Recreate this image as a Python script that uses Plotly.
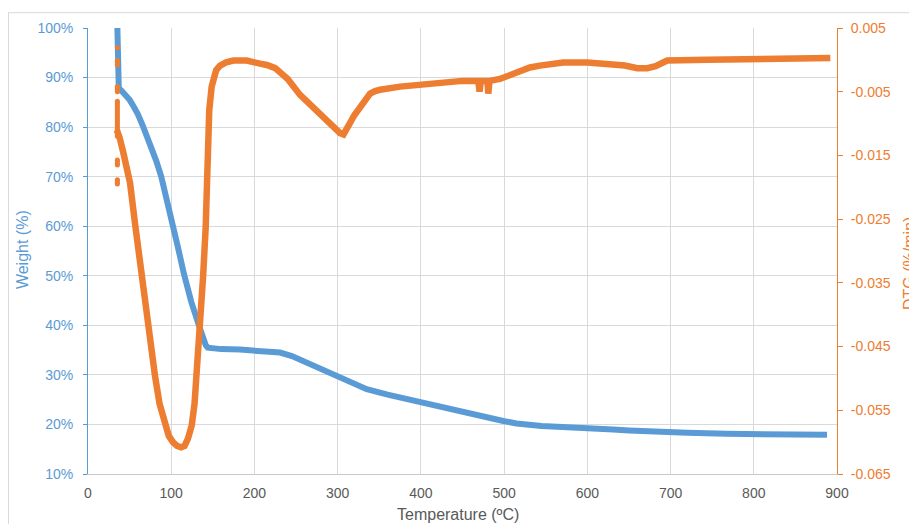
import plotly.graph_objects as go

# ---------------- data ----------------
weight_temp = [35.3, 35.5, 35.8, 37, 40, 45, 50, 55, 60, 66.5, 75, 82, 88, 95, 101, 108,
               115.4, 124, 134, 137, 139.5, 141.5, 144, 150, 160, 182.7, 210, 230.8, 245,
               262.8, 280, 298.8, 315, 334.9, 360, 399, 430, 463, 485, 499, 515, 527, 545,
               570, 591, 615, 631, 650, 671, 691, 720, 767, 800, 850, 888]
weight_pct = [100, 94, 88.2, 87.8, 87.4, 86.6, 85.5, 84.1, 82.6, 80.0, 76.5, 73.2, 70.0,
              65.4, 61.0, 55.8, 50.3, 44.8, 39.6, 38.0, 36.8, 36.0, 35.5, 35.3, 35.2, 35.1,
              34.9, 34.5, 33.8, 32.5, 31.2, 29.8, 28.4, 27.1, 26.0, 24.5, 23.3, 21.8, 21.1,
              20.7, 20.2, 19.9, 19.7, 19.5, 19.4, 19.2, 19.0, 18.8, 18.6, 18.4, 18.3, 18.1,
              18.1, 18.0, 17.9]

dtg_temp = [34.6, 38, 42.5, 50.5, 57, 64.5, 72, 80.5, 86, 92.5, 97, 102, 107, 111.8, 116,
            120, 124.6, 128, 130.6, 134.6, 138.3, 141.4, 142.8, 143.7, 145.7, 148.6, 150.6,
            154, 158.7, 166, 174.7, 190.7, 206.7, 215, 225, 232, 240, 254.8, 265, 278.8,
            290, 302.9, 307, 311, 314.9, 320, 327, 333, 339, 345, 351, 375, 400, 423, 450,
            469, 470.5, 472, 480, 481, 482.5, 495, 507, 519, 531, 543, 555, 571, 600, 628,
            645, 660, 672, 682, 690, 696, 744, 824, 892]
dtg_val = [-0.0110, -0.0122, -0.0146, -0.0193, -0.0262, -0.0340, -0.0418, -0.0496, -0.0540,
           -0.0574, -0.0590, -0.0600, -0.0606, -0.0608, -0.0606, -0.0595, -0.0574, -0.0540,
           -0.0496, -0.0418, -0.0340, -0.0263, -0.0193, -0.0130, -0.0079, -0.0042, -0.0027,
           -0.0016, -0.0009, -0.0004, -0.0001, -0.0001, -0.0006, -0.0008, -0.0013, -0.0020,
           -0.0030, -0.0055, -0.0068, -0.0086, -0.0100, -0.0115, -0.0117, -0.0110, -0.0099,
           -0.0087, -0.0073, -0.0062, -0.0053, -0.0049, -0.0047, -0.0042, -0.0039, -0.0035,
           -0.0033, -0.0033, -0.0050, -0.0033, -0.0033, -0.0053, -0.0033, -0.0030, -0.0024,
           -0.0018, -0.0012, -0.0009, -0.0006, -0.0004, -0.0004, -0.0006, -0.0009, -0.0013,
           -0.0013, -0.0010, -0.0005, -0.0001, 0.0000, 0.0001, 0.0003]

# scattered DTG readings at the start of the run (None = gap)
dtg_start_temp = [35.3, None, 35.3, 35.3, None, 35.3, 35.3, None, 35.3, 35.3, None,
                  35.3, 35.3, None, 35.3, 35.3]
dtg_start_val = [0.0019, None, -0.0001, -0.0008, None, -0.0042, -0.0050, None, -0.0065,
                 -0.0120, None, -0.0157, -0.0165, None, -0.0188, -0.0195]

x_ticks = [0, 100, 200, 300, 400, 500, 600, 700, 800, 900]
y_ticks = [10, 20, 30, 40, 50, 60, 70, 80, 90, 100]
y_ticktext = ["10%", "20%", "30%", "40%", "50%", "60%", "70%", "80%", "90%", "100%"]
y2_ticks = [0.005, -0.005, -0.015, -0.025, -0.035, -0.045, -0.055, -0.065]
y2_ticktext = ["0.005", "-0.005", "-0.015", "-0.025", "-0.035", "-0.045", "-0.055", "-0.065"]

BLUE = "#5b9bd5"
ORANGE = "#ed7d31"
GRID = "#d9d9d9"
FONT = "Liberation Sans, Arial, sans-serif"

fig = go.Figure()
fig.add_trace(go.Scatter(x=dtg_start_temp, y=dtg_start_val, yaxis="y2", mode="lines+markers",
                         line=dict(color=ORANGE, width=5), marker=dict(color=ORANGE, size=5),
                         connectgaps=False, showlegend=False, hoverinfo="skip"))
fig.add_trace(go.Scatter(x=dtg_temp, y=dtg_val, yaxis="y2", mode="lines",
                         line=dict(color=ORANGE, width=6.5),
                         name="DTG", showlegend=False))
fig.add_trace(go.Scatter(x=weight_temp, y=weight_pct, mode="lines",
                         line=dict(color=BLUE, width=6),
                         name="Weight", showlegend=False))

fig.update_layout(
    width=909, height=516,
    margin=dict(l=80, r=80, t=16, b=50),
    paper_bgcolor="white", plot_bgcolor="white",
    font=dict(family=FONT, size=14, color="#595959"),
    xaxis=dict(range=[0, 900], tickvals=x_ticks, showgrid=True, gridcolor=GRID, gridwidth=1,
               zeroline=False, showline=True, linecolor="#c8c8c8", linewidth=1,
               ticks="", ticklabelstandoff=6, tickfont=dict(color="#595959", size=14)),
    yaxis=dict(range=[10, 100], tickvals=y_ticks, ticktext=y_ticktext, showgrid=True,
               gridcolor=GRID, gridwidth=1, zeroline=False, showline=True, linecolor=BLUE,
               linewidth=1, ticks="outside", ticklen=4, tickcolor=BLUE,
               ticklabelstandoff=7, tickfont=dict(color=BLUE, size=14)),
    yaxis2=dict(range=[-0.065, 0.005], tickvals=y2_ticks, ticktext=y2_ticktext,
                overlaying="y", side="right", showgrid=False, zeroline=False, showline=True,
                linecolor=ORANGE, linewidth=1, ticks="outside", ticklen=5, tickcolor=ORANGE,
                ticklabelstandoff=5, tickfont=dict(color=ORANGE, size=14)),
    annotations=[
        dict(text="Temperature (ºC)", xref="paper", yref="paper", x=0.494, y=-0.091,
             xanchor="center", yanchor="middle", showarrow=False,
             font=dict(size=16, color="#595959", family=FONT)),
        dict(text="Weight (%)", xref="paper", yref="paper", x=-0.0881, y=0.502,
             xanchor="center", yanchor="middle", textangle=-90, showarrow=False,
             font=dict(size=16, color=BLUE, family=FONT)),
        dict(text="DTG (%/min)", xref="paper", yref="paper", x=1.0975, y=0.471,
             xanchor="center", yanchor="middle", textangle=-90, showarrow=False,
             font=dict(size=16, color=ORANGE, family=FONT)),
    ],
    shapes=[
        dict(type="line", xref="paper", yref="paper", x0=-0.1068, x1=1.2, y0=1.0344, y1=1.0344,
             line=dict(color=GRID, width=1), layer="below"),
        dict(type="line", xref="paper", yref="paper", x0=-0.1062, x1=-0.1062, y0=-0.2, y1=1.0344,
             line=dict(color=GRID, width=1), layer="below"),
    ],
)

fig.write_html("out.html")
